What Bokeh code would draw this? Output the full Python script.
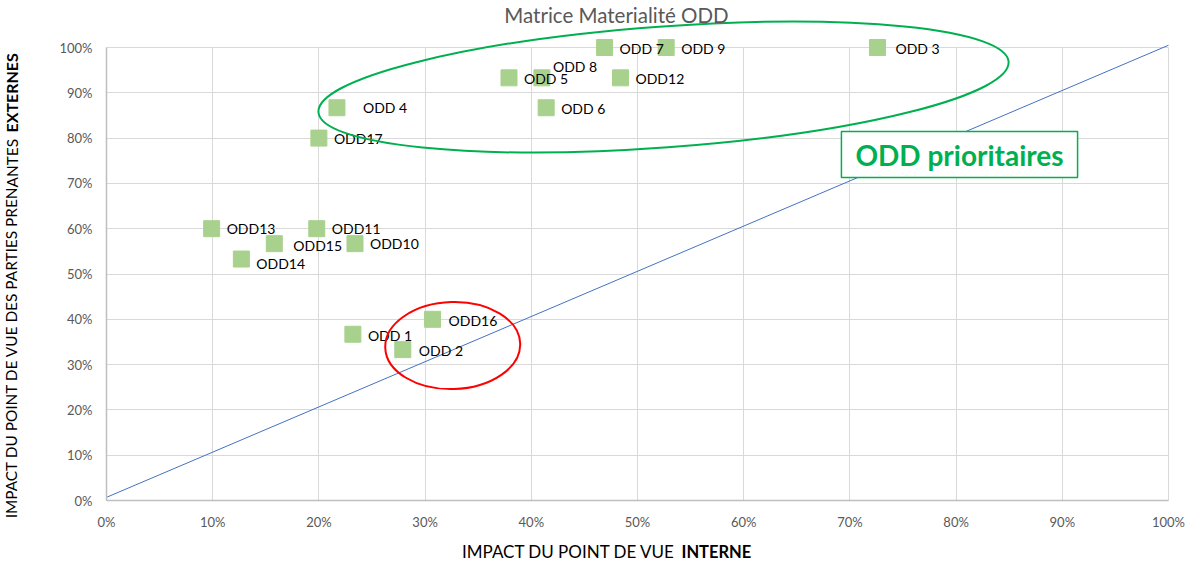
from bokeh.plotting import figure
from bokeh.models import (Range1d, NumeralTickFormatter, FixedTicker, Label, ColumnDataSource,
                          LinearAxis, Grid)
from bokeh.core.properties import value
from bokeh.embed import file_html
from bokeh.resources import INLINE

# ---- data ----
names = ["ODD 1", "ODD 2", "ODD 3", "ODD 4", "ODD 5", "ODD 6", "ODD 7", "ODD 8", "ODD 9",
         "ODD10", "ODD11", "ODD12", "ODD13", "ODD14", "ODD15", "ODD16", "ODD17"]
interne = [0.232, 0.279, 0.726, 0.217, 0.379, 0.414, 0.469, 0.410, 0.527,
           0.234, 0.198, 0.484, 0.099, 0.127, 0.158, 0.307, 0.200]
externe = [0.367, 0.333, 1.000, 0.867, 0.933, 0.867, 1.000, 0.933, 1.000,
           0.567, 0.600, 0.933, 0.600, 0.533, 0.567, 0.400, 0.800]
ticks = [0.0, 0.1, 0.2, 0.3, 0.4, 0.5, 0.6, 0.7, 0.8, 0.9, 1.0]
diag_x = [0.0, 1.0]
diag_y = [0.007, 1.005]

# label placement (screen pixels)
label_dx = [15, 16, 18, 26, 15, 15, 15, 11, 15, 15, 15, 15, 15, 15, 19, 16, 15]
label_dy = [1, 1, 1, 0, 1, 1, 1, -11, 1, 0, 0, 1, 0, 4, 2, 1, 0]

FONT = "Lato"
GREEN = "#00B050"

W, H = 1186, 564
FL, FR, FT, FB = 106, 1168, 47, 500   # where data 0..1 sits on the canvas
xs = (FR - FL)
ys = (FB - FT)
x_range = Range1d(-FL / xs, (W - FL) / xs)
y_range = Range1d(-(H - FB) / ys, FB / ys)


def px_x(px):
    return (px - FL) / xs


def px_y(py):
    return (FB - py) / ys


src = ColumnDataSource(dict(x=interne, y=externe, name=names, dx=label_dx, dy=label_dy))

p = figure(width=W, height=H, output_backend="svg", toolbar_location=None,
           x_range=x_range, y_range=y_range, x_axis_type=None, y_axis_type=None,
           min_border=0, min_border_left=0, min_border_right=0,
           min_border_top=0, min_border_bottom=0)
p.title.visible = False
p.background_fill_color = "white"
p.border_fill_color = "white"
p.outline_line_color = None

xaxis = LinearAxis(fixed_location=0, bounds=(0, 1))
yaxis = LinearAxis(fixed_location=0, bounds=(0, 1))
for ax in (xaxis, yaxis):
    ax.ticker = FixedTicker(ticks=ticks)
    ax.formatter = NumeralTickFormatter(format="0%")
    ax.major_tick_line_color = None
    ax.minor_tick_line_color = None
    ax.major_tick_out = 0
    ax.axis_line_color = "#BFBFBF"
    ax.axis_line_width = 1.5
    ax.major_label_text_color = "#595959"
    ax.major_label_text_font = FONT
    ax.major_label_text_font_size = "13px"
xaxis.major_label_standoff = 13
yaxis.major_label_standoff = 14
p.add_layout(xaxis, "below")
p.add_layout(yaxis, "left")

for dim in (0, 1):
    g = Grid(dimension=dim, ticker=FixedTicker(ticks=ticks),
             bounds=(-0.001, 1.001), cross_bounds=(0, 1),
             grid_line_color="#D9D9D9", grid_line_width=1, level="underlay")
    p.add_layout(g, "center")

# diagonal
p.line(diag_x, diag_y, line_color="#4472C4", line_width=1)

# markers
p.scatter("x", "y", source=src, marker="square", size=16,
          fill_color="#A9D18E", line_color="#A9D18E")

# labels
p.text("x", "y", text="name", source=src, x_offset="dx", y_offset="dy",
       text_font=value(FONT), text_font_size="14px", text_color="#000000",
       text_align="left", text_baseline="middle")

# highlight ellipses (annotation shapes)
p.ellipse(x=[0.5245], y=[0.9128], width=[692], height=[121], angle=[0.073],
          width_units="screen", height_units="screen",
          fill_color=None, line_color=GREEN, line_width=2)
p.ellipse(x=[0.326], y=[0.342], width=[135], height=[87], angle=[0.03],
          width_units="screen", height_units="screen",
          fill_color=None, line_color="#FF0000", line_width=2)

# boxed caption
p.add_layout(Label(x=px_x(959), y=px_y(154), text="ODD prioritaires", text_align="center",
                   text_baseline="middle", text_font=FONT, text_font_size="28px",
                   text_font_style="bold", text_color=GREEN,
                   border_line_color=GREEN, border_line_width=1.5,
                   background_fill_color="white",
                   padding=dict(left=14, right=14, top=6, bottom=6)))

# title
p.add_layout(Label(x=px_x(616), y=px_y(14), text="Matrice Materialité ODD", text_align="center",
                   text_baseline="middle", text_font=FONT, text_font_size="20.5px",
                   text_color="#595959"))

# x axis label (normal + bold)
p.add_layout(Label(x=px_x(675), y=px_y(551), text="IMPACT DU POINT DE VUE", text_align="right",
                   text_baseline="middle", text_font=FONT, text_font_size="17px",
                   text_color="#000000"))
p.add_layout(Label(x=px_x(681), y=px_y(551), text="INTERNE", text_align="left",
                   text_baseline="middle", text_font=FONT, text_font_size="16.5px",
                   text_font_style="bold", text_color="#000000"))

# y axis label (normal + bold)
p.add_layout(Label(x=px_x(11), y=px_y(137), text="IMPACT DU POINT DE VUE DES PARTIES PRENANTES",
                   angle=1.5707963, text_align="right", text_baseline="middle",
                   text_font=FONT, text_font_size="15.4px", text_color="#000000"))
p.add_layout(Label(x=px_x(11), y=px_y(132), text="EXTERNES",
                   angle=1.5707963, text_align="left", text_baseline="middle",
                   text_font=FONT, text_font_size="16px", text_font_style="bold",
                   text_color="#000000"))

open("out.html", "w").write(file_html(p, INLINE))
